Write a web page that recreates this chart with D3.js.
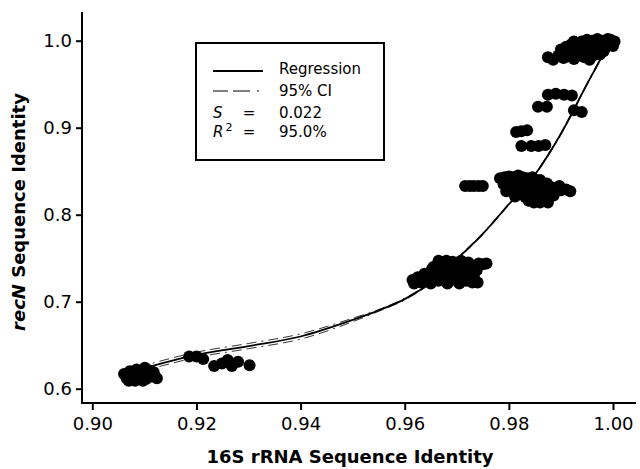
<!DOCTYPE html>
<meta charset="utf-8">
<style>
    body { margin: 0; background: #fff; }
    svg { font-family: "DejaVu Sans", Verdana, sans-serif; }
    .tick text { font-size: 18px; fill: #000; }
    .tick line { stroke: #000; stroke-width: 2; }
</style>
<body>
<svg width="640" height="469"></svg>
<script src="https://d3js.org/d3.v7.min.js"></script>
<script>
// x = 16S rRNA identity, y = recN identity
var clusterA = [[0.9061,0.617],[0.9066,0.612],[0.9072,0.620],[0.9078,0.615],[0.9082,0.609],[0.9088,0.619],
    [0.9092,0.613],[0.9097,0.609],[0.9101,0.624],[0.9105,0.617],[0.9110,0.621],[0.9113,0.614],
    [0.9118,0.619],[0.9124,0.612],[0.9085,0.622],[0.9070,0.609],[0.9075,0.611],[0.9095,0.616],
    [0.9103,0.611],[0.9080,0.618]];
var clusterB = [[0.9186,0.637],[0.9200,0.637],[0.9213,0.634],[0.9234,0.626],[0.9249,0.629],[0.9260,0.633],
    [0.9268,0.626],[0.9280,0.631],[0.9302,0.627]];
var clusterC = [[0.9615,0.725],[0.9618,0.721],[0.9625,0.728],[0.9632,0.722],[0.9638,0.732],[0.9645,0.726],
    [0.9650,0.721],[0.9652,0.737],[0.9658,0.730],[0.9662,0.742],[0.9665,0.724],[0.9670,0.745],
    [0.9672,0.734],[0.9676,0.728],[0.9680,0.747],[0.9682,0.721],[0.9685,0.740],[0.9688,0.731],
    [0.9692,0.746],[0.9695,0.725],[0.9698,0.736],[0.9702,0.742],[0.9705,0.721],[0.9708,0.747],
    [0.9710,0.730],[0.9715,0.738],[0.9718,0.724],[0.9722,0.745],[0.9726,0.732],[0.9730,0.722],
    [0.9735,0.741],[0.9742,0.744],[0.9750,0.743],[0.9757,0.744],[0.9738,0.736],[0.9740,0.722],
    [0.9660,0.735],[0.9668,0.739],[0.9678,0.736],[0.9690,0.738],[0.9700,0.733],[0.9712,0.727],
    [0.9720,0.735],[0.9728,0.739],[0.9655,0.740],[0.9665,0.747],[0.9733,0.728],[0.9630,0.726]];
var clusterD = [[0.9716,0.833],[0.9725,0.833],[0.9733,0.833],[0.9742,0.833],[0.9750,0.833],
    [0.9783,0.842],[0.9790,0.835],[0.9795,0.827],[0.9800,0.844],[0.9805,0.838],[0.9810,0.831],
    [0.9812,0.821],[0.9818,0.845],[0.9822,0.836],[0.9828,0.828],[0.9832,0.820],[0.9835,0.842],
    [0.9840,0.833],[0.9845,0.825],[0.9848,0.814],[0.9852,0.840],[0.9858,0.830],[0.9862,0.818],
    [0.9866,0.836],[0.9870,0.826],[0.9875,0.814],[0.9880,0.832],[0.9886,0.822],[0.9892,0.830],
    [0.9900,0.828],[0.9910,0.829],[0.9918,0.827],[0.9792,0.843],[0.9808,0.843],[0.9826,0.843],
    [0.9845,0.843],[0.9860,0.840],[0.9873,0.836],[0.9800,0.830],[0.9818,0.826],[0.9836,0.830],
    [0.9855,0.824],[0.9872,0.820],[0.9885,0.826],[0.9897,0.833],[0.9860,0.814],[0.9838,0.816]];
var clusterE = [[0.9814,0.895],[0.9835,0.897],[0.9824,0.879],[0.9843,0.879],[0.9857,0.879],[0.9870,0.880],
    [0.9824,0.896]];
var clusterF = [[0.9875,0.938],[0.9890,0.939],[0.9906,0.938],[0.9921,0.937],
    [0.9856,0.924],[0.9873,0.924],[0.9925,0.920],[0.9940,0.918]];
var clusterG = [[0.9875,0.981],[0.9885,0.978],[0.9895,0.983],[0.9905,0.980],[0.9915,0.982],[0.9925,0.979],
    [0.9935,0.983],[0.9945,0.981],[0.9955,0.978],[0.9900,0.990],[0.9910,0.993],[0.9920,0.996],
    [0.9930,0.991],[0.9940,0.999],[0.9950,0.994],[0.9960,1.000],[0.9965,0.990],[0.9970,0.996],
    [0.9980,1.000],[0.9985,0.992],[0.9990,0.997],[0.9995,1.001],[1.0000,0.994],[1.0003,0.999],
    [0.9975,0.984],[0.9915,0.987],[0.9935,0.988],[0.9955,0.987],[0.9925,0.999],[0.9950,1.001],
    [0.9970,1.002],[0.9990,1.002],[0.9982,0.988],[0.9962,0.983]];

// fitted curve and 95% CI
var fitX     = [0.906, 0.910, 0.920, 0.930, 0.940, 0.950, 0.955, 0.960, 0.965, 0.970, 0.975, 0.980, 0.985, 0.990, 0.995, 1.000];
var fitY     = [0.618, 0.624, 0.639, 0.649, 0.660, 0.679, 0.690, 0.703, 0.722, 0.749, 0.778, 0.812, 0.846, 0.893, 0.950, 1.005];
var ciUpperY = [0.621, 0.627, 0.642, 0.652, 0.663, 0.681, 0.691, 0.704, 0.723, 0.750, 0.779, 0.813, 0.847, 0.894, 0.951, 1.007];
var ciLowerY = [0.615, 0.621, 0.636, 0.646, 0.657, 0.677, 0.689, 0.702, 0.721, 0.748, 0.777, 0.811, 0.845, 0.892, 0.949, 1.003];

var xTicks = [0.90, 0.92, 0.94, 0.96, 0.98, 1.00];
var yTicks = [0.6, 0.7, 0.8, 0.9, 1.0];
var legendRows = [["S", "", "0.022"], ["R", "2", "95.0%"]];

var svg = d3.select("svg");

var x = d3.scaleLinear().domain([0.90, 1.00]).range([92.3, 613]),
    y = d3.scaleLinear().domain([0.6, 1.0]).range([388.7, 40.7]);

var axisY0 = 403, axisX0 = 82;

var points = [].concat(clusterA, clusterB, clusterC, clusterD, clusterE, clusterF, clusterG);

// CI and regression
var line = d3.line()
    .x(function (d) { return x(d[0]); })
    .y(function (d) { return y(d[1]); })
    .curve(d3.curveMonotoneX);

[ciUpperY, ciLowerY].forEach(function (ys) {
    svg.append("path")
        .datum(fitX.map(function (v, i) { return [v, ys[i]]; }))
        .attr("d", line)
        .attr("fill", "none")
        .attr("stroke", "#000")
        .attr("stroke-width", 0.8)
        .attr("stroke-dasharray", "10,5,10,5,2,5");
});

svg.append("path")
    .datum(fitX.map(function (v, i) { return [v, fitY[i]]; }))
    .attr("d", line)
    .attr("fill", "none")
    .attr("stroke", "#000")
    .attr("stroke-width", 1.8);

svg.append("g").selectAll("circle")
    .data(points)
    .enter().append("circle")
    .attr("cx", function (d) { return x(d[0]); })
    .attr("cy", function (d) { return y(d[1]); })
    .attr("r", 6)
    .attr("fill", "#000");

// axes
var xAxis = d3.axisBottom(x).tickValues(xTicks).tickFormat(d3.format(".2f"))
    .tickSize(7).tickPadding(7).tickSizeOuter(0);
var yAxis = d3.axisLeft(y).tickValues(yTicks).tickFormat(d3.format(".1f"))
    .tickSize(6).tickPadding(4).tickSizeOuter(0);

var gx = svg.append("g").attr("transform", "translate(0," + axisY0 + ")").call(xAxis);
var gy = svg.append("g").attr("transform", "translate(" + axisX0 + ",0)").call(yAxis);
gx.select(".domain").remove();
gy.select(".domain").remove();
svg.selectAll(".tick text").style("font-family", "DejaVu Sans").attr("fill", "#000");

svg.append("path")
    .attr("d", "M" + axisX0 + ",12V" + axisY0 + "H636")
    .attr("fill", "none")
    .attr("stroke", "#000")
    .attr("stroke-width", 2);

// axis titles
svg.append("text")
    .attr("x", 350)
    .attr("y", 463)
    .attr("text-anchor", "middle")
    .style("font-size", "18px")
    .style("font-weight", "bold")
    .text("16S rRNA Sequence Identity");

var yt = svg.append("text")
    .attr("transform", "translate(25,212) rotate(-90)")
    .attr("text-anchor", "middle")
    .style("font-size", "18px")
    .style("font-weight", "bold");
yt.append("tspan").style("font-style", "italic").text("recN");
yt.append("tspan").text(" Sequence Identity");

// legend
var lg = svg.append("g");
lg.append("rect")
    .attr("x", 196).attr("y", 43)
    .attr("width", 188).attr("height", 117)
    .attr("fill", "#fff")
    .attr("stroke", "#000")
    .attr("stroke-width", 2);
lg.append("line")
    .attr("x1", 213).attr("x2", 263).attr("y1", 71).attr("y2", 71)
    .attr("stroke", "#000").attr("stroke-width", 2);
lg.append("line")
    .attr("x1", 213).attr("x2", 260).attr("y1", 91).attr("y2", 91)
    .attr("stroke", "#000").attr("stroke-width", 1)
    .attr("stroke-dasharray", "15,5,17,7,2,10");
lg.append("text").attr("x", 279).attr("y", 74).style("font-size", "15px").text("Regression");
lg.append("text").attr("x", 279).attr("y", 96).style("font-size", "15px").text("95% CI");

legendRows.forEach(function (r, i) {
    var yy = 118 + i * 19;
    var t = lg.append("text").attr("x", 213).attr("y", yy).style("font-size", "15px");
    t.append("tspan").style("font-style", "italic").text(r[0]);
    if (r[1]) t.append("tspan").attr("dy", -6).attr("dx", 2).style("font-size", "11px").text(r[1]);
    lg.append("text").attr("x", 249).attr("y", yy).attr("text-anchor", "middle")
        .style("font-size", "15px").text("=");
    lg.append("text").attr("x", 279).attr("y", yy).style("font-size", "15px").text(r[2]);
});
</script>
</body>
